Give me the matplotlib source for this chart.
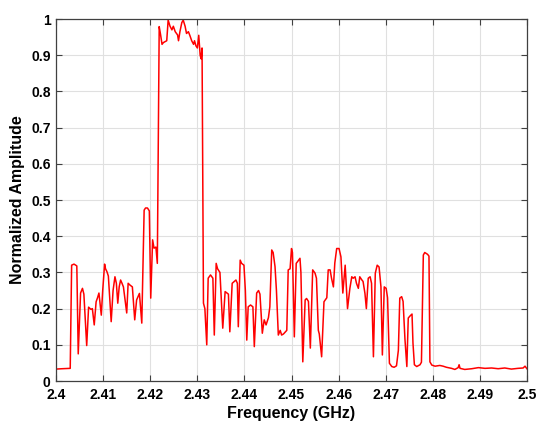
import numpy as np
import matplotlib
matplotlib.use('Agg')
import matplotlib.pyplot as plt

# frequency (GHz) and normalized amplitude
freq = [2.4000, 2.4013, 2.4030, 2.4033, 2.4038, 2.4044, 2.4047, 2.4052, 2.4056, 2.4059,
        2.4065, 2.4069, 2.4074, 2.4077, 2.4081, 2.4085, 2.4088, 2.4091, 2.4096, 2.4099,
        2.4103, 2.4105, 2.4108, 2.4111, 2.4117, 2.4121, 2.4125, 2.4128, 2.4131, 2.4134,
        2.4137, 2.4140, 2.4143, 2.4150, 2.4153, 2.4157, 2.4162, 2.4167, 2.4171, 2.4177,
        2.4182, 2.4187, 2.4190, 2.4194, 2.4198, 2.4201, 2.4205, 2.4208, 2.4212, 2.4215,
        2.4219, 2.4222, 2.4225, 2.4228, 2.4231, 2.4235, 2.4238, 2.4242, 2.4246, 2.4249,
        2.4253, 2.4258, 2.4260, 2.4263, 2.4267, 2.4270, 2.4274, 2.4277, 2.4281, 2.4284,
        2.4288, 2.4292, 2.4294, 2.4297, 2.4300, 2.4303, 2.4306, 2.4308, 2.4310, 2.4313,
        2.4316, 2.4320, 2.4323, 2.4328, 2.4333, 2.4336, 2.4340, 2.4343, 2.4348, 2.4354,
        2.4359, 2.4366, 2.4369, 2.4374, 2.4382, 2.4385, 2.4387, 2.4391, 2.4394, 2.4399,
        2.4402, 2.4405, 2.4408, 2.4413, 2.4418, 2.4421, 2.4426, 2.4430, 2.4433, 2.4438,
        2.4442, 2.4446, 2.4451, 2.4454, 2.4458, 2.4461, 2.4465, 2.4468, 2.4472, 2.4476,
        2.4479, 2.4483, 2.4490, 2.4493, 2.4497, 2.4500, 2.4502, 2.4506, 2.4510, 2.4513,
        2.4518, 2.4520, 2.4524, 2.4529, 2.4532, 2.4536, 2.4540, 2.4545, 2.4550, 2.4553,
        2.4557, 2.4559, 2.4564, 2.4569, 2.4575, 2.4578, 2.4582, 2.4585, 2.4589, 2.4592,
        2.4596, 2.4601, 2.4605, 2.4609, 2.4614, 2.4619, 2.4624, 2.4628, 2.4631, 2.4635,
        2.4638, 2.4642, 2.4645, 2.4649, 2.4652, 2.4656, 2.4659, 2.4663, 2.4667, 2.4670,
        2.4674, 2.4678, 2.4682, 2.4686, 2.4690, 2.4693, 2.4697, 2.4701, 2.4704, 2.4708,
        2.4713, 2.4718, 2.4723, 2.4727, 2.4730, 2.4734, 2.4737, 2.4741, 2.4745, 2.4748,
        2.4752, 2.4756, 2.4758, 2.4761, 2.4766, 2.4773, 2.4776, 2.4780, 2.4783, 2.4789,
        2.4792, 2.4794, 2.4798, 2.4805, 2.4815, 2.4822, 2.4829, 2.4840, 2.4847, 2.4854,
        2.4856, 2.4858, 2.4868, 2.4883, 2.4897, 2.4911, 2.4925, 2.4939, 2.4953, 2.4967,
        2.4981, 2.4992, 2.4996, 2.5000]

amp = [0.033, 0.034, 0.035, 0.320, 0.323, 0.318, 0.075, 0.243, 0.256, 0.240,
       0.098, 0.204, 0.198, 0.200, 0.155, 0.219, 0.230, 0.243, 0.182, 0.250,
       0.323, 0.310, 0.302, 0.290, 0.164, 0.250, 0.288, 0.270, 0.215, 0.260,
       0.279, 0.270, 0.260, 0.188, 0.270, 0.265, 0.260, 0.169, 0.224, 0.242,
       0.160, 0.472, 0.478, 0.478, 0.470, 0.229, 0.390, 0.367, 0.370, 0.325,
       0.979, 0.956, 0.930, 0.935, 0.937, 0.940, 0.997, 0.980, 0.970, 0.980,
       0.965, 0.956, 0.940, 0.965, 0.990, 0.997, 0.980, 0.960, 0.965, 0.955,
       0.940, 0.930, 0.940, 0.926, 0.920, 0.955, 0.900, 0.890, 0.920, 0.215,
       0.200, 0.100, 0.284, 0.293, 0.284, 0.127, 0.325, 0.310, 0.300, 0.146,
       0.247, 0.240, 0.136, 0.270, 0.279, 0.270, 0.150, 0.334, 0.325, 0.320,
       0.250, 0.113, 0.205, 0.210, 0.205, 0.095, 0.243, 0.250, 0.240, 0.132,
       0.169, 0.155, 0.175, 0.205, 0.362, 0.355, 0.316, 0.250, 0.127, 0.140,
       0.127, 0.130, 0.140, 0.307, 0.310, 0.366, 0.355, 0.122, 0.325, 0.330,
       0.339, 0.300, 0.053, 0.224, 0.228, 0.220, 0.091, 0.307, 0.298, 0.284,
       0.140, 0.130, 0.067, 0.219, 0.230, 0.307, 0.307, 0.284, 0.260, 0.326,
       0.366, 0.366, 0.343, 0.243, 0.320, 0.200, 0.256, 0.288, 0.284, 0.288,
       0.270, 0.256, 0.288, 0.280, 0.275, 0.242, 0.200, 0.284, 0.288, 0.270,
       0.067, 0.298, 0.320, 0.315, 0.260, 0.072, 0.260, 0.256, 0.230, 0.049,
       0.040, 0.038, 0.042, 0.085, 0.229, 0.233, 0.220, 0.115, 0.040, 0.174,
       0.180, 0.185, 0.105, 0.045, 0.040, 0.045, 0.052, 0.348, 0.355, 0.350,
       0.345, 0.053, 0.044, 0.041, 0.043, 0.041, 0.038, 0.035, 0.032, 0.037,
       0.045, 0.035, 0.032, 0.034, 0.037, 0.035, 0.036, 0.034, 0.036, 0.033,
       0.035, 0.036, 0.041, 0.034]

xticks = [2.4, 2.41, 2.42, 2.43, 2.44, 2.45, 2.46, 2.47, 2.48, 2.49, 2.5]
xtick_labels = ['2.4', '2.41', '2.42', '2.43', '2.44', '2.45', '2.46', '2.47', '2.48', '2.49', '2.5']
yticks = [0, 0.1, 0.2, 0.3, 0.4, 0.5, 0.6, 0.7, 0.8, 0.9, 1]
ytick_labels = ['0', '0.1', '0.2', '0.3', '0.4', '0.5', '0.6', '0.7', '0.8', '0.9', '1']

plt.rcParams['font.family'] = ['Liberation Sans', 'DejaVu Sans']

fig = plt.figure(figsize=(5.5, 4.32), dpi=100)
ax = fig.add_axes([0.102, 0.118, 0.856, 0.838])

ax.plot(freq, amp, color='#ff0000', linewidth=1.1)

ax.set_xlim(2.4, 2.5)
ax.set_ylim(0, 1)
ax.set_xticks(xticks)
ax.set_xticklabels(xtick_labels, fontweight='bold', fontsize=10)
ax.set_yticks(yticks)
ax.set_yticklabels(ytick_labels, fontweight='bold', fontsize=10)

ax.grid(True, color='#e0e0e0', linewidth=0.8)
ax.set_axisbelow(True)
ax.tick_params(direction='in', top=True, right=True, length=4, width=0.8,
               color='#404040')
ax.tick_params(axis='x', pad=5)
ax.tick_params(axis='y', pad=4)
for s in ax.spines.values():
    s.set_color('#404040')
    s.set_linewidth(0.9)

ax.set_xlabel('Frequency (GHz)', fontweight='bold', fontsize=11.5, labelpad=3)
ax.set_ylabel('Normalized Amplitude', fontweight='bold', fontsize=11.5, labelpad=4)

fig.savefig('out.png', dpi=100)
